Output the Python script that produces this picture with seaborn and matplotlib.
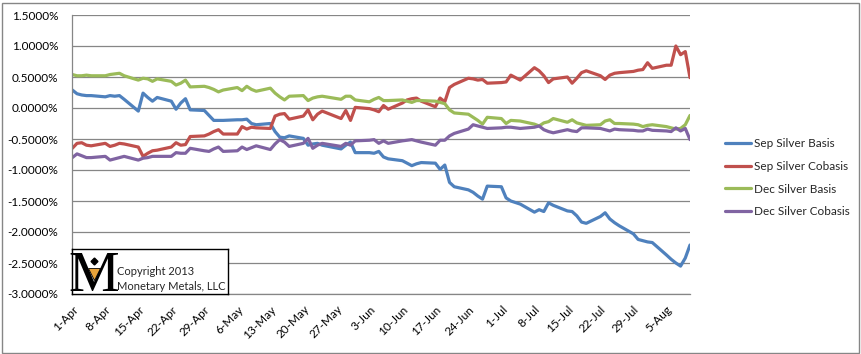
import pandas as pd
import matplotlib
matplotlib.use("Agg")
import matplotlib.pyplot as plt
import matplotlib.transforms as mtransforms
import seaborn as sns
from matplotlib.ticker import FuncFormatter, MultipleLocator
from matplotlib.patches import Rectangle

# Trading days Apr 1 - Aug 10 2013 (US holidays dropped)
dates = list(pd.bdate_range("2013-04-01", "2013-08-09")
             .drop(pd.to_datetime(["2013-05-27", "2013-07-04"]))) + [pd.Timestamp("2013-08-10")]

# Values in percent
sep_basis = [
    0.29, 0.23, 0.21, 0.20, 0.20,
    0.18, 0.20, 0.19, 0.20, 0.14,
    -0.05, 0.24, 0.17, 0.11, 0.17,
    0.11, -0.02, 0.08, 0.15, -0.03,
    -0.04, -0.12, -0.20, -0.20, -0.20,
    -0.19, -0.19, -0.18, -0.25, -0.27,
    -0.25, -0.38, -0.47, -0.48, -0.45,
    -0.49, -0.60, -0.58, -0.57, -0.60,
    -0.66, -0.60, -0.55, -0.72,
    -0.72, -0.73, -0.70, -0.79, -0.82,
    -0.85, -0.89, -0.93, -0.90, -0.88,
    -0.89, -0.99, -0.92, -1.20, -1.27,
    -1.32, -1.36, -1.42, -1.47, -1.26,
    -1.27, -1.45, -1.50, -1.55,
    -1.68, -1.64, -1.67, -1.53, -1.57,
    -1.66, -1.67, -1.74, -1.84, -1.86,
    -1.75, -1.69, -1.79, -1.85, -1.90,
    -2.03, -2.12, -2.14, -2.16, -2.17,
    -2.37, -2.44, -2.50, -2.55, -2.42,
    -2.21,
]
sep_cobasis = [
    -0.65, -0.57, -0.56, -0.60, -0.61,
    -0.57, -0.62, -0.60, -0.57, -0.58,
    -0.63, -0.78, -0.73, -0.69, -0.68,
    -0.63, -0.56, -0.60, -0.59, -0.46,
    -0.45, -0.42, -0.38, -0.35, -0.42,
    -0.42, -0.30, -0.34, -0.31, -0.32,
    -0.33, -0.13, -0.10, -0.09, -0.18,
    -0.13, -0.03, -0.19, -0.10, -0.05,
    -0.17, -0.04, -0.20, 0.01,
    -0.01, -0.03, -0.06, 0.04, -0.02,
    0.08, 0.13, 0.15, 0.16, 0.11,
    0.02, 0.16, 0.10, 0.33, 0.38,
    0.48, 0.47, 0.45, 0.46, 0.40,
    0.41, 0.42, 0.53, 0.45,
    0.65, 0.60, 0.52, 0.41, 0.47,
    0.50, 0.40, 0.48, 0.57, 0.60,
    0.52, 0.46, 0.53, 0.56, 0.57,
    0.59, 0.61, 0.62, 0.73, 0.64,
    0.69, 0.69, 1.00, 0.86, 0.91,
    0.49,
]
dec_basis = [
    0.54, 0.52, 0.52, 0.53, 0.52,
    0.52, 0.54, 0.55, 0.56, 0.52,
    0.45, 0.48, 0.47, 0.43, 0.47,
    0.43, 0.37, 0.40, 0.45, 0.34,
    0.35, 0.33, 0.30, 0.26, 0.29,
    0.33, 0.28, 0.35, 0.30, 0.27,
    0.32, 0.24, 0.18, 0.13, 0.19,
    0.20, 0.12, 0.16, 0.18, 0.19,
    0.14, 0.19, 0.19, 0.13,
    0.10, 0.14, 0.17, 0.12, 0.12,
    0.13, 0.11, 0.09, 0.12, 0.12,
    0.11, 0.09, 0.07, -0.03, -0.08,
    -0.10, -0.15, -0.20, -0.26, -0.15,
    -0.17, -0.25, -0.20, -0.21,
    -0.26, -0.29, -0.24, -0.22, -0.17,
    -0.23, -0.19, -0.24, -0.26, -0.28,
    -0.27, -0.21, -0.19, -0.25, -0.25,
    -0.26, -0.27, -0.30, -0.28, -0.27,
    -0.30, -0.32, -0.34, -0.33, -0.27,
    -0.12,
]
dec_cobasis = [
    -0.80, -0.74, -0.77, -0.80, -0.80,
    -0.78, -0.84, -0.82, -0.80, -0.78,
    -0.84, -0.81, -0.80, -0.78, -0.78,
    -0.78, -0.72, -0.73, -0.73, -0.65,
    -0.69, -0.70, -0.66, -0.63, -0.70,
    -0.69, -0.63, -0.67, -0.64, -0.61,
    -0.67, -0.58, -0.51, -0.55, -0.62,
    -0.57, -0.49, -0.65, -0.60, -0.57,
    -0.62, -0.57, -0.60, -0.53,
    -0.52, -0.51, -0.57, -0.53, -0.57,
    -0.53, -0.52, -0.51, -0.53, -0.55,
    -0.60, -0.52, -0.52, -0.45, -0.41,
    -0.34, -0.27, -0.29, -0.31, -0.33,
    -0.32, -0.31, -0.31, -0.33,
    -0.31, -0.29, -0.35, -0.38, -0.40,
    -0.35, -0.37, -0.38, -0.32, -0.32,
    -0.33, -0.35, -0.37, -0.34, -0.35,
    -0.36, -0.37, -0.37, -0.34, -0.36,
    -0.37, -0.38, -0.32, -0.37, -0.33,
    -0.51,
]

series_names = ["Sep Silver Basis", "Sep Silver Cobasis", "Dec Silver Basis", "Dec Silver Cobasis"]
colors = ["#4F81BD", "#C0504D", "#9BBB59", "#8064A2"]

df = pd.DataFrame({"Date": dates,
                   series_names[0]: sep_basis,
                   series_names[1]: sep_cobasis,
                   series_names[2]: dec_basis,
                   series_names[3]: dec_cobasis})
long_df = df.melt(id_vars="Date", var_name="Series", value_name="Value")

sns.set_style("white")
plt.rcParams["font.family"] = ["Lato", "DejaVu Sans"]

W, H = 861, 354
fig = plt.figure(figsize=(W / 100, H / 100), dpi=100)
ax = fig.add_axes([72.3 / W, 1 - 294 / H, (690 - 72.3) / W, (294 - 15) / H])

sns.lineplot(data=long_df, x="Date", y="Value", hue="Series", hue_order=series_names,
             palette=colors, linewidth=2.3, ax=ax, legend=True)

ax.set_xlim(dates[0], dates[-1])
ax.set_ylim(-3.0, 1.5)
ax.yaxis.set_major_locator(MultipleLocator(0.5))
ax.yaxis.set_major_formatter(FuncFormatter(lambda v, p: f"{v:.4f}%"))
ax.grid(axis="y", color="#868686", linewidth=0.9)
ax.set_axisbelow(True)

xticks = pd.date_range("2013-04-01", "2013-08-05", freq="7D")
ax.set_xticks(xticks)
ax.set_xticklabels([f"{d.day}-{d:%b}" for d in xticks], rotation=45, ha="right",
                   rotation_mode="anchor")
# nudge rotated labels a little right/down like Excel places them
shift = mtransforms.ScaledTranslation(4 / 100, -2 / 100, fig.dpi_scale_trans)
for lbl in ax.get_xticklabels():
    lbl.set_transform(lbl.get_transform() + shift)
ax.set_xlabel("")
ax.set_ylabel("")

for side in ["top", "right"]:
    ax.spines[side].set_visible(False)
for side in ["left", "bottom"]:
    ax.spines[side].set_color("#868686")
    ax.spines[side].set_linewidth(0.9)
ax.tick_params(axis="both", which="major", direction="out", length=4, width=0.9,
               color="#868686", labelsize=8.5, labelcolor="black")
ax.tick_params(axis="y", pad=6)
ax.tick_params(axis="x", pad=3)

handles, labels = ax.get_legend_handles_labels()
ax.legend(handles, labels, loc="upper left", bbox_to_anchor=(719 / W, 1 - 132 / H),
          bbox_transform=fig.transFigure, frameon=False, fontsize=8.5,
          handlelength=2.2, handletextpad=0.3, labelspacing=1.0, borderpad=0)

# Logo box in the lower left corner of the plot
lx0, ly0, lx1, ly1 = 72.3, 249.3, 227.7, 294.3
logo = fig.add_axes([lx0 / W, 1 - ly1 / H, (lx1 - lx0) / W, (ly1 - ly0) / H])
logo.set_facecolor("white")
logo.set_xlim(0, 1)
logo.set_ylim(0, 1)
logo.set_xticks([])
logo.set_yticks([])
for s in logo.spines.values():
    s.set_color("black")
    s.set_linewidth(1)
logo.text(0.135, 0.08, "M", family="Liberation Serif", fontsize=41, ha="center",
          va="baseline", color="black")
logo.plot([0.137], [0.74], marker="D", markersize=3.5, color="black")
logo.plot([0.137], [0.45], marker="v", markersize=8, color="#E8A33A",
          markeredgecolor="black", markeredgewidth=0.6)
logo.text(0.286, 0.50, "Copyright 2013", fontsize=8, va="center", ha="left")
logo.text(0.286, 0.18, "Monetary Metals, LLC", fontsize=8, va="center", ha="left")

# Chart border
fig.patches.append(Rectangle((1.5 / W, 1.5 / H), (W - 4) / W, (H - 4) / H,
                             transform=fig.transFigure, fill=False,
                             edgecolor="#868686", linewidth=1))

fig.savefig("out.png", dpi=100)
